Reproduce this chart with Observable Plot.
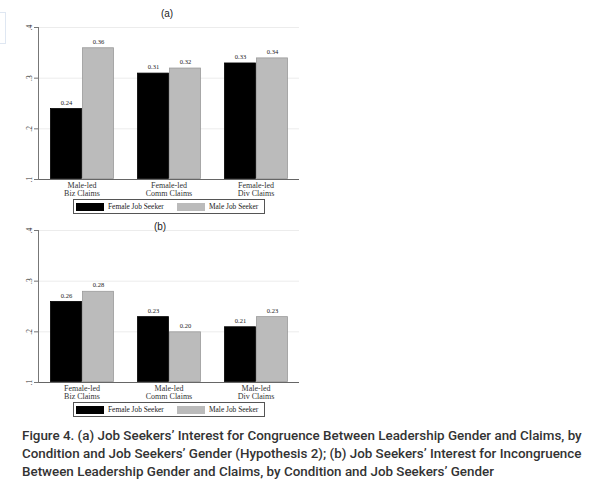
<!DOCTYPE html>
<html>
<head>
<meta charset="utf-8">
<script src="https://cdn.jsdelivr.net/npm/d3@7"></script>
<script src="https://cdn.jsdelivr.net/npm/@observablehq/plot@0.6"></script>
<style>
  html, body { margin: 0; padding: 0; background: #fff; }
  #wrap { position: relative; width: 590px; height: 490px; overflow: hidden; }
  .panel { position: absolute; left: 0; }
  .legend { position: absolute; left: 73px; width: 190px; height: 13px; border: 1px solid #555;
    font-family: "Liberation Serif", serif; font-size: 7.4px; color: #222; background: #fff; }
  .legend .sw { position: absolute; top: 3px; width: 28px; height: 8px; }
  .legend .lb { position: absolute; top: 1px; line-height: 12px; white-space: nowrap; }
  #caption { position: absolute; left: 22px; top: 427px; width: 565px; font-family: Roboto, sans-serif;
    font-weight: 500; font-size: 13.4px; line-height: 18px; color: #333; }
  #edge { position: absolute; left: -2px; top: 12px; width: 6px; height: 30px; border: 1px solid #dfe7f2; }
</style>
</head>
<body>
<div id="wrap">
  <div id="edge"></div>
  <div id="pa" class="panel" style="top:0px"></div>
  <div id="pb" class="panel" style="top:203px"></div>
  <div id="la" class="legend" style="top:199px"></div>
  <div id="lb" class="legend" style="top:402px"></div>
  <div id="caption">Figure 4. (a) Job Seekers’ Interest for Congruence Between Leadership Gender and Claims, by Condition and Job Seekers’ Gender (Hypothesis 2); (b) Job Seekers’ Interest for Incongruence Between Leadership Gender and Claims, by Condition and Job Seekers’ Gender</div>
</div>
<script>
const seekers = ["Female Job Seeker", "Male Job Seeker"];
const seekerColors = ["#000000", "#bbbbbb"];

const catsA = ["Male-led\nBiz Claims", "Female-led\nComm Claims", "Female-led\nDiv Claims"];
const femaleA = [0.24, 0.31, 0.33];
const maleA = [0.36, 0.32, 0.34];

const catsB = ["Female-led\nBiz Claims", "Male-led\nComm Claims", "Male-led\nDiv Claims"];
const femaleB = [0.26, 0.23, 0.21];
const maleB = [0.28, 0.20, 0.23];

const yTicks = [0.1, 0.2, 0.3, 0.4];
const gridTicks = [0.2, 0.3, 0.4];
const yBase = 0.1;

function panel(cats, fem, mal, title, titleDx, titleDy) {
  const data = cats.flatMap((c, i) => [
    {cat: c, seeker: seekers[0], value: fem[i]},
    {cat: c, seeker: seekers[1], value: mal[i]}
  ]);
  return Plot.plot({
    width: 305,
    height: 201,
    marginLeft: 37,
    marginRight: 5,
    marginTop: 27,
    marginBottom: 22,
    style: {fontFamily: "Liberation Serif, serif", background: "transparent", color: "#222", overflow: "visible"},
    fx: {domain: cats, padding: 0, label: null},
    x: {domain: seekers, paddingInner: 0, paddingOuter: 0.35, axis: null},
    y: {domain: [0.1, 0.4], axis: null},
    color: {domain: seekers, range: seekerColors},
    marks: [
      Plot.ruleY(gridTicks, {stroke: "#ececec", strokeWidth: 1}),
      Plot.barY(data, {
        fx: "cat", x: "seeker", y1: () => yBase, y2: "value", fill: "seeker",
        stroke: d => d.seeker === seekers[0] ? "#000" : "#9a9a9a", strokeWidth: 0.8, inset: 0.5
      }),
      Plot.text(data, {
        fx: "cat", x: "seeker", y: "value", text: d => d.value.toFixed(2),
        dy: -6, fontSize: 6.5, fill: "#222"
      }),
      Plot.ruleY([yBase], {stroke: "#666", strokeWidth: 1}),
      Plot.frame({anchor: "left", facetAnchor: "left", stroke: "#777", strokeWidth: 1}),
      Plot.axisY({
        ticks: yTicks, tickFormat: d => String(d).replace(/^0/, ""),
        tickRotate: -90, tickSize: 4, tickPadding: 3, fontSize: 7.5, stroke: "#777", fill: "#333", label: null
      }),
      Plot.axisFx({anchor: "bottom", tickSize: 0, tickPadding: 2, fontSize: 8, lineHeight: 1.08, fill: "#333", label: null}),
      Plot.text([title], {fx: () => cats[1], frameAnchor: "top", dy: titleDy, dx: titleDx, fontSize: 10, fontFamily: "Liberation Sans, sans-serif", fill: "#222"})
    ]
  });
}

function legend(el) {
  el.innerHTML =
    `<div class="sw" style="left:2px;background:${seekerColors[0]}"></div>` +
    `<div class="lb" style="left:34px">${seekers[0]}</div>` +
    `<div class="sw" style="left:103px;background:${seekerColors[1]}"></div>` +
    `<div class="lb" style="left:135px">${seekers[1]}</div>`;
}

document.getElementById("pa").append(panel(catsA, femaleA, maleA, "(a)", -2, -18));
document.getElementById("pb").append(panel(catsB, femaleB, maleB, "(b)", -9, -8));
legend(document.getElementById("la"));
legend(document.getElementById("lb"));
</script>
</body>
</html>
